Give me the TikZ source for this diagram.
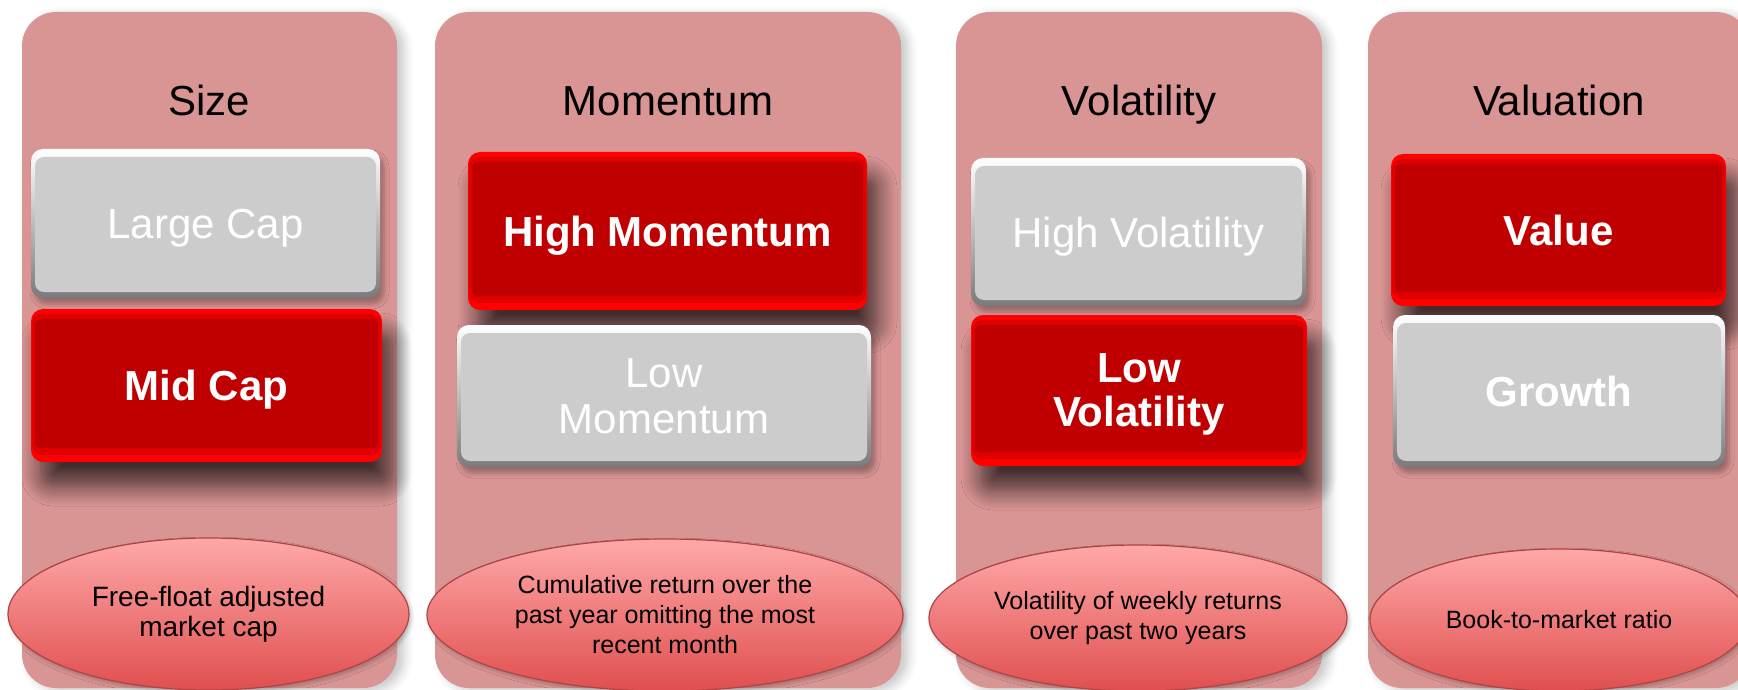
\documentclass[tikz,border=0pt]{standalone}
\usepackage{fontspec}
\setmainfont{Liberation Sans}
\usepackage{tikz}
\usetikzlibrary{shapes.geometric,shadows.blur}
\usepackage{xcolor}
\definecolor{fpillar}{HTML}{D99594}
\definecolor{fpick}{HTML}{C00000}
\definecolor{fpickmid}{HTML}{E00000}
\definecolor{fpickrim}{HTML}{FF0000}
\definecolor{fgrey}{HTML}{CCCCCC}
\definecolor{fgreydark}{HTML}{7A7A7A}
\definecolor{fovaltop}{HTML}{FFA8A8}
\definecolor{fovalbot}{HTML}{E04F4F}
\definecolor{fovalrim}{HTML}{B04444}
\tikzset{
  pillar/.style   = {fill=fpillar, rounded corners=34pt, inner sep=0pt,
                     minimum width=#1, minimum height=676pt,
                     blur shadow={shadow xshift=7pt, shadow yshift=-3pt,
                                  shadow opacity=22, shadow blur radius=9pt}},
  heading/.style  = {anchor=base, inner sep=0pt, text=black,
                     font=\fontsize{42}{46}\selectfont},
  redbox/.style   = {fill=fpickrim, rounded corners=12pt, inner sep=0pt,
                     align=center, text=white, text depth=0pt,
                     font=\fontsize{42}{44}\selectfont\bfseries,
                     blur shadow={shadow xshift=10pt, shadow yshift=-24pt,
                                  shadow opacity=70, shadow blur radius=20pt,
                                  shadow blur steps=14},
                     path picture={
                       \fill[fpickmid, rounded corners=10pt]
                         ([xshift=1pt,yshift=-5pt]path picture bounding box.north west) rectangle
                         ([xshift=-1pt,yshift=7pt]path picture bounding box.south east);
                       \fill[fpick, rounded corners=6pt]
                         ([xshift=4pt,yshift=-10pt]path picture bounding box.north west) rectangle
                         ([xshift=-4pt,yshift=14pt]path picture bounding box.south east);}},
  greybox/.style  = {top color=white, bottom color=fgreydark, rounded corners=12pt,
                     inner sep=0pt, align=center, text=white, text depth=0pt,
                     font=\fontsize{42}{46}\selectfont,
                     blur shadow={shadow xshift=4pt, shadow yshift=-6pt,
                                  shadow opacity=30, shadow blur radius=5pt},
                     path picture={\fill[fgrey, rounded corners=9pt]
                       ([xshift=4pt,yshift=-8pt]path picture bounding box.north west) rectangle
                       ([xshift=-4pt,yshift=6pt]path picture bounding box.south east);}},
  boldtext/.style = {font=\fontsize{42}{44}\selectfont\bfseries},
  oval/.style     = {ellipse, draw=fovalrim, line width=1.2pt,
                     top color=fovaltop, bottom color=fovalbot,
                     inner xsep=-30pt, inner ysep=-10pt, align=center, text=black,
                     font=\fontsize{25}{30}\selectfont,
                     blur shadow={shadow xshift=2pt, shadow yshift=-3pt,
                                  shadow opacity=25, shadow blur radius=4pt}},
}

\begin{document}
\begin{tikzpicture}[x=1pt,y=-1pt]
\useasboundingbox (0,0) rectangle (1738,690);
\clip (0,0) rectangle (1738,690);
% factor columns
\node[pillar=375pt] (sizeC) at (209.5,350) {};
\node[pillar=466pt] (momC) at (668,350) {};
\node[pillar=366pt] (volC) at (1139,350) {};
\node[pillar=382pt] (valC) at (1559,350) {};
\node[heading] (sizeT) at (209.5,116) {Size};
\node[heading] (momT) at (668,116) {Momentum};
\node[heading] (volT) at (1139,116) {Volatility};
\node[heading] (valT) at (1559,116) {Valuation};
% size
\node[greybox, minimum width=349pt, minimum height=149pt] (large) at (205.5,223.5) {Large Cap};
\node[redbox, minimum width=351pt, minimum height=153pt] (mid) at (206.5,385.5) {Mid Cap};
\node[oval, minimum width=401pt, minimum height=152pt, font=\fontsize{28}{30}\selectfont]
  (sizeD) at (208.5,614) {Free-float adjusted\\market cap};
% momentum
\node[redbox, minimum width=399pt, minimum height=158pt] (himom) at (667.5,231) {High Momentum};
\node[greybox, minimum width=414pt, minimum height=142pt] (lomom) at (664,396) {Low\\Momentum};
\node[oval, minimum width=476pt, minimum height=152pt]
  (momD) at (665,615) {Cumulative return over the\\past year omitting the most\\recent month};
% volatility
\node[greybox, minimum width=335pt, minimum height=148pt] (hivol) at (1138.5,232) {High Volatility};
\node[redbox, minimum width=336pt, minimum height=151pt] (lovol) at (1139,390.5) {Low\\Volatility};
\node[oval, minimum width=418pt, minimum height=146pt]
  (volD) at (1138,618) {Volatility of weekly returns\\over past two years};
% valuation
\node[redbox, minimum width=335pt, minimum height=152pt] (value) at (1558.5,230) {Value};
\node[greybox, boldtext, minimum width=332pt, minimum height=152pt] (growth) at (1559,391) {Growth};
\node[oval, minimum width=378pt, minimum height=142pt]
  (valD) at (1559,620) {Book-to-market ratio};
\end{tikzpicture}
\end{document}
